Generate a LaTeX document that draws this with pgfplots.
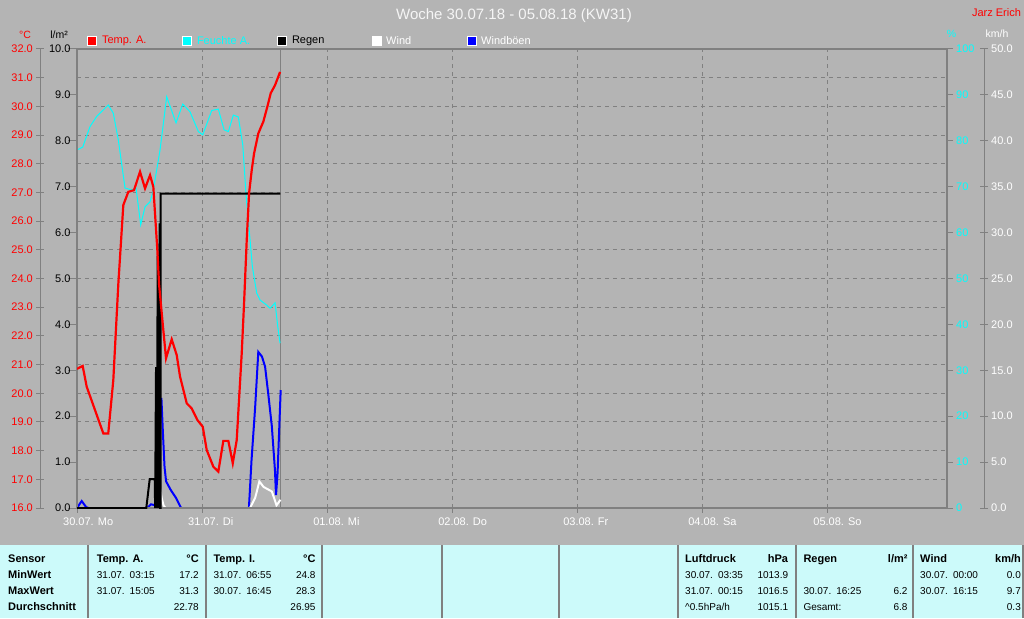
\documentclass[border=0pt]{standalone}
\usepackage{pgfplots}
\pgfplotsset{compat=1.18}
\usepackage{fontspec}
\setmainfont{Liberation Sans}
\definecolor{bg}{RGB}{180,180,180}
\definecolor{ax}{RGB}{128,128,128}
\definecolor{tabc}{RGB}{204,250,250}
\definecolor{myred}{RGB}{255,0,0}
\definecolor{mycyan}{RGB}{0,255,255}
\definecolor{myblue}{RGB}{0,0,255}
\definecolor{titlec}{RGB}{245,245,245}
\pgfplotsset{
  /pgf/number format/assume math mode=true,
  tick label style={font=\fontsize{11}{13}\selectfont},
  base/.style={scale only axis, width=870pt, height=459pt, at={(77pt,110pt)}, anchor=south west, xmin=0, xmax=167},
  onedec/.style={/pgf/number format/.cd, fixed, fixed zerofill, precision=1},
}
\begin{document}
\begin{tikzpicture}[x=1pt,y=1pt]
\fill[bg] (0,0) rectangle (1024,618);
% grid axis
\begin{axis}[base, ymin=16, ymax=32, axis line style={draw=none},
  xtick={24,48,...,144}, ytick={17,...,31}, xticklabels={}, yticklabels={},
  major tick length=0pt, grid=major,
  grid style={ax, line width=1pt, dash pattern=on 4pt off 4pt}]
\addplot[ax, line width=1pt] coordinates {(39.05,16) (39.05,32)};
\end{axis}
% humidity
\begin{axis}[base, ymin=0, ymax=100, axis x line=none, axis y line*=right,
  ytick={0,10,...,100}, y axis line style={ax, line width=2pt},
  ytick style={ax, line width=1pt}, tick align=outside, major tick length=6pt,
  yticklabel style={mycyan, anchor=west, inner sep=0pt, xshift=3pt}]
\addplot[mycyan, line width=1pt] coordinates {
(0,78.0)(1.09,78.6)(2.5,83.1)(3.78,85.3)(6.0,87.8)(6.97,86.0)(7.93,80.2)(9.22,69.7)
(10.5,69.3)(11.33,69.7)(12.23,61.7)(13.06,65.6)(14.02,66.7)(14.65,69.3)(15.94,78.0)
(17.22,89.6)(19.01,83.9)(20.3,88.0)(21.7,86.3)(23.3,82.0)(24.14,81.3)(25.86,86.6)
(27.13,86.9)(28.23,82.4)(29.05,82.0)(30.01,85.6)(30.97,85.2)(31.82,79.1)(32.45,68.2)
(33.22,58.4)(33.66,52.6)(34.5,46.8)(35.14,45.3)(36.42,44.2)(37.06,43.5)(38.02,44.7)
(38.54,39.5)(38.98,35.9)};
\end{axis}
% wind
\begin{axis}[base, ymin=0, ymax=50, hide axis]
\addplot[myblue, line width=2pt] coordinates {
(0,0)(0.9,0.76)(1.75,0.1)(2.2,0)(13.5,0)(14.2,0.4)(15.0,0.3)(15.2,0)(15.5,11.0)(15.7,9.0)
(16.2,12.0)(16.5,8.1)(16.8,4.5)(17.1,2.9)(18.0,1.96)(19.0,1.1)(19.7,0.3)(20.0,0)(33.0,0)
(33.5,5.2)(34.2,11.0)(34.8,17.0)(35.5,16.5)(36.1,15.4)(36.7,12.5)(37.4,8.9)(38.0,4.1)
(38.2,1.4)(38.5,3.8)(38.9,9.9)(39.1,12.85)};
\addplot[white, line width=2pt] coordinates {
(0,0)(15.2,0)(15.6,1.5)(15.9,2.3)(16.3,1.0)(16.6,0.3)(17.0,0)(33.2,0)(34.2,1.1)(35.0,2.9)
(35.8,2.3)(37.4,1.8)(38.3,0.3)(38.7,0.6)(39.05,0.9)};
\end{axis}
% rain with frame
\begin{axis}[base, ymin=0, ymax=10, axis line style={ax, line width=2pt},
  xtick={0,24,...,144},
  xticklabels={30.07. Mo,31.07. Di,01.08. Mi,02.08. Do,03.08. Fr,04.08. Sa,05.08. So},
  xtick pos=bottom, ytick pos=left, ytick={0,...,10}, tick align=outside,
  xtick style={ax, line width=1pt, /pgfplots/major tick length=5pt},
  ytick style={ax, line width=1pt, /pgfplots/major tick length=9pt},
  yticklabel style={black, anchor=east, inner sep=0pt, xshift=-2pt, onedec},
  xticklabel style={white, anchor=north west, inner sep=0pt, xshift=-14pt, yshift=-5pt}]
\addplot[black, line width=2pt] coordinates {
(0,0)(13.3,0)(13.96,0.63)(14.92,0.63)(15.0,0)(15.17,3.07)(15.3,0)(15.5,5.5)(15.65,0)
(15.85,6.2)(15.95,0)(16.05,0)(16.05,6.85)(39.05,6.85)};
\end{axis}
% temperature
\begin{axis}[base, ymin=16, ymax=32, hide axis]
\addplot[myred, line width=2.2pt] coordinates {
(0,20.85)(1.09,20.95)(1.86,20.23)(5.05,18.6)(6.0,18.6)(6.97,20.46)(7.93,23.8)(8.89,26.56)
(9.85,27.02)(10.94,27.08)(12.1,27.72)(13.06,27.14)(14.02,27.6)(14.65,27.2)(15.42,25.0)
(15.75,23.8)(16.57,22.2)(17.09,21.22)(18.18,21.88)(19.14,21.33)(19.78,20.58)(21.06,19.65)
(22.02,19.47)(23.1,19.07)(24.14,18.83)(24.9,18.02)(26.17,17.44)(27.13,17.27)(28.09,18.34)
(29.05,18.34)(29.9,17.56)(30.66,18.37)(31.62,21.4)(32.07,23.14)(32.58,25.34)(33.03,26.97)
(33.54,27.78)(33.99,28.36)(34.81,29.06)(35.77,29.47)(36.54,29.99)(37.19,30.46)(38.02,30.74)
(38.98,31.2)};
\end{axis}
% temperature scale
\begin{axis}[scale only axis, width=1pt, height=459pt, at={(40pt,110pt)}, anchor=south west,
  xmin=0, xmax=1, ymin=16, ymax=32, axis x line=none, axis y line*=left,
  ytick={16,...,32}, tick align=center, major tick length=8pt,
  y axis line style={ax, line width=1pt}, ytick style={ax, line width=1pt},
  yticklabel style={myred, anchor=east, inner sep=0pt, xshift=-3pt, onedec}]
\end{axis}
% wind scale
\begin{axis}[scale only axis, width=1pt, height=459pt, at={(983pt,110pt)}, anchor=south west,
  xmin=0, xmax=1, ymin=0, ymax=50, axis x line=none, axis y line*=right,
  ytick={0,5,...,50}, tick align=center, major tick length=8pt,
  y axis line style={ax, line width=1pt}, ytick style={ax, line width=1pt},
  yticklabel style={white, anchor=west, inner sep=0pt, xshift=3pt, onedec}]
\end{axis}
% titles and units
\node[titlec, font=\fontsize{15}{18}\selectfont] at (514,602) {Woche 30.07.18 - 05.08.18 (KW31)};
\node[myred, font=\fontsize{11}{13}\selectfont] at (996.5,605.5) {Jarz Erich};
\begin{scope}[every node/.style={font=\fontsize{10.5}{12}\selectfont, inner sep=0pt}]
\node[myred] at (25,583) {°C};
\node[black] at (59,583) {l/m²};
\node[mycyan] at (951.5,584) {\%};
\node[white] at (997,584) {km/h};
\end{scope}
% legend
\begin{scope}[every node/.style={font=\fontsize{11}{13}\selectfont, inner sep=0pt, anchor=west}]
\filldraw[fill=myred, draw=white, line width=0.8pt] (87.5,573) rectangle (96.5,582);
\node[myred] at (101.8,577.5) {Temp. A.};
\filldraw[fill=mycyan, draw=white, line width=0.8pt] (182.5,573) rectangle (191.5,582);
\node[mycyan] at (196.8,577.5) {Feuchte A.};
\filldraw[fill=black, draw=white, line width=0.8pt] (277.5,573) rectangle (286.5,582);
\node[black] at (291.8,577.5) {Regen};
\filldraw[fill=white, draw=white, line width=0.8pt] (372.5,573) rectangle (381.5,582);
\node[white] at (386,577.5) {Wind};
\filldraw[fill=myblue, draw=white, line width=0.8pt] (467.5,573) rectangle (476.5,582);
\node[white] at (481,577.5) {Windböen};
\end{scope}
% table
\fill[tabc] (0,0) rectangle (1024,73);
\foreach \xx in {88,206,322,442,559,678,796,913,1023} {\draw[ax, line width=1.5pt] (\xx,0) -- (\xx,73);}
\begin{scope}[tl/.style={anchor=west, inner sep=0pt, text height=7.5pt, text depth=2pt, font=\fontsize{10}{12}\selectfont},
  tr/.style={anchor=east, inner sep=0pt, text height=7.5pt, text depth=2pt, font=\fontsize{10}{12}\selectfont},
  bl/.style={tl, font=\fontsize{11}{12}\bfseries},
  br/.style={tr, font=\fontsize{11}{12}\bfseries}]
\node[bl] at (8,58) {Sensor};
\node[bl] at (8,42) {MinWert};
\node[bl] at (8,26) {MaxWert};
\node[bl] at (8,10) {Durchschnitt};
\node[bl] at (96.7,58) {Temp. A.}; \node[br] at (199,58) {°C};
\node[tl] at (96.7,42) {31.07.\hspace{0.5em}03:15}; \node[tr] at (199,42) {17.2};
\node[tl] at (96.7,26) {31.07.\hspace{0.5em}15:05}; \node[tr] at (199,26) {31.3};
\node[tr] at (199,10) {22.78};
\node[bl] at (213.3,58) {Temp. I.}; \node[br] at (315.7,58) {°C};
\node[tl] at (213.3,42) {31.07.\hspace{0.5em}06:55}; \node[tr] at (315.7,42) {24.8};
\node[tl] at (213.3,26) {30.07.\hspace{0.5em}16:45}; \node[tr] at (315.7,26) {28.3};
\node[tr] at (315.7,10) {26.95};
\node[bl] at (685,58) {Luftdruck}; \node[br] at (788.3,58) {hPa};
\node[tl] at (685,42) {30.07.\hspace{0.5em}03:35}; \node[tr] at (788.3,42) {1013.9};
\node[tl] at (685,26) {31.07.\hspace{0.5em}00:15}; \node[tr] at (788.3,26) {1016.5};
\node[tl] at (685,10) {\textasciicircum 0.5hPa/h}; \node[tr] at (788.3,10) {1015.1};
\node[bl] at (803.3,58) {Regen}; \node[br] at (907.7,58) {l/m²};
\node[tl] at (803.3,26) {30.07.\hspace{0.5em}16:25}; \node[tr] at (907.7,26) {6.2};
\node[tl] at (803.3,10) {Gesamt:}; \node[tr] at (907.7,10) {6.8};
\node[bl] at (920,58) {Wind}; \node[br] at (1021,58) {km/h};
\node[tl] at (920,42) {30.07.\hspace{0.5em}00:00}; \node[tr] at (1021,42) {0.0};
\node[tl] at (920,26) {30.07.\hspace{0.5em}16:15}; \node[tr] at (1021,26) {9.7};
\node[tr] at (1021,10) {0.3};
\end{scope}
\pgfresetboundingbox
\path (0,0) rectangle (1024,618);
\end{tikzpicture}
\end{document}
